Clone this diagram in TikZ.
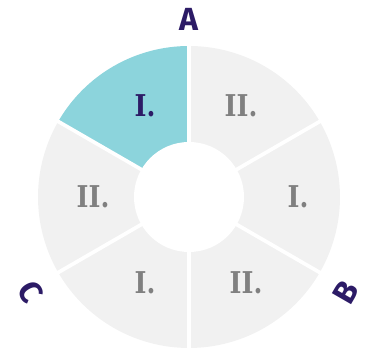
\documentclass[tikz,border=0pt]{standalone}
\usepackage{fontspec}
\newfontfamily\numfont[FakeStretch=0.85]{DejaVu Serif}
\newfontfamily\labfont{Fira Sans}
\definecolor{tealseg}{HTML}{8CD4DC}
\definecolor{grayseg}{HTML}{F1F1F1}
\definecolor{numgray}{HTML}{808080}
\definecolor{ink}{HTML}{2C1B66}
\begin{document}
\begin{tikzpicture}[x=1pt,y=1pt,
  num/.style={font=\numfont\bfseries\fontsize{30}{30}\selectfont, text=numgray, anchor=base, inner sep=0pt},
  lab/.style={font=\labfont\bfseries\fontsize{32}{32}\selectfont, text=ink, inner sep=0pt},
  gap/.style={white, line width=3.7pt}]
\useasboundingbox (0,0) rectangle (365,350);
\coordinate (O) at (189,153);
\foreach \a/\c in {90/tealseg,150/grayseg,210/grayseg,270/grayseg,330/grayseg,30/grayseg}{
  \fill[\c] (O) -- ++(\a:151) arc[start angle=\a, delta angle=60, radius=151] -- cycle;
}
\foreach \a in {30,90,150,210,270,330}{
  \draw[gap] (O) -- ++(\a:160);
}
\fill[white] (O) circle[radius=55];
\node[num, text=ink] (tl) at (145,233) {I.};
\node[num] (tr) at (241,233) {II.};
\node[num] (l) at (93,142) {II.};
\node[num] (r) at (298,142) {I.};
\node[num] (bl) at (145,56) {I.};
\node[num] (br) at (246,56) {II.};
\node[lab] (A) at (189,331) {A};
\node[lab, rotate=60] (B) at (345.5,58) {B};
\node[lab, rotate=-60] (C) at (30.5,58) {C};
\end{tikzpicture}
\end{document}
